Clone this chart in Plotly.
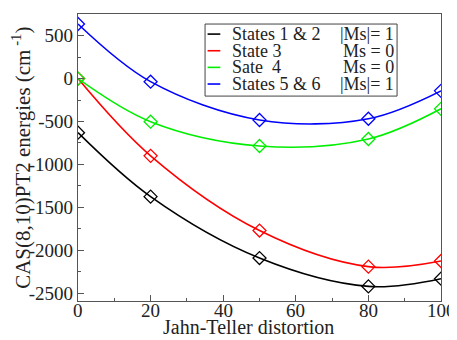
import plotly.graph_objects as go

distortion = [0, 20, 50, 80, 100]
states_1_2 = [-630, -1375, -2090, -2420, -2330]
state_3 = [0, -900, -1770, -2190, -2124]
state_4 = [0, -502, -785, -704, -352]
states_5_6 = [636, -36, -482, -468, -143]

names = ["States 1 & 2", "State 3", "Sate  4", "States 5 & 6"]
ms_labels = ["|Ms|= 1", "Ms = 0", "Ms = 0", "|Ms|= 1"]
colors = ["#000000", "#ff0000", "#00ee00", "#0000ff"]
series = [states_1_2, state_3, state_4, states_5_6]

y_ticks = [-2500, -2000, -1500, -1000, -500, 0, 500]
y_ticktext = ["-2500", "-2000", "-1500", "-1000", "-500", "0", "500"]
x_ticks = [0, 20, 40, 60, 80, 100]
x_ticktext = ["0", "20", "40", "60", "80", "100"]

font = "Liberation Serif, Times New Roman, serif"
txt_col = "#222222"
axis_col = "#555555"

fig = go.Figure()
for name, col, ys in zip(names, colors, series):
    fig.add_trace(go.Scatter(
        x=distortion, y=ys, name=name, mode="lines+markers", showlegend=False,
        line=dict(color=col, width=1.6, shape="spline", smoothing=1.0),
        marker=dict(symbol="diamond-open", size=10, color=col, line=dict(width=1.3, color=col)),
    ))

# page body has an 8px margin, so the figure is sized to fit the 457x340 window
fig.update_layout(
    width=449, height=332,
    margin=dict(l=70, r=16, t=6, b=39, autoexpand=False),
    paper_bgcolor="white", plot_bgcolor="white",
    font=dict(family=font, size=18, color=txt_col),
    showlegend=False,
    xaxis=dict(
        range=[0, 100], tickvals=x_ticks, ticks="inside", ticklen=6,
        minor=dict(dtick=10, ticks="inside", ticklen=3, tickcolor=axis_col),
        showline=True, linecolor=axis_col, linewidth=1.2, mirror=True,
        showgrid=False, zeroline=False, tickcolor=axis_col, automargin=False,
        showticklabels=False,
    ),
    yaxis=dict(
        range=[-2590, 752], tickvals=y_ticks, ticktext=y_ticktext,
        ticks="inside", ticklen=6, automargin=False,
        minor=dict(dtick=250, tick0=0, ticks="inside", ticklen=3, tickcolor=axis_col),
        showline=True, linecolor=axis_col, linewidth=1.2, mirror=True,
        showgrid=False, zeroline=False, tickcolor=axis_col,
        tickfont=dict(size=19),
    ),
)

# x tick labels, placed tight under the axis as in the reference
for v, t in zip(x_ticks, x_ticktext):
    fig.add_annotation(
        x=v, y=-0.034, xref="x", yref="paper", text=t, showarrow=False,
        xanchor="center", yanchor="middle", borderpad=0,
        font=dict(family=font, size=19, color=txt_col),
    )

# axis titles
fig.add_annotation(
    x=0.47, y=-0.136, xref="paper", yref="paper", text="Jahn-Teller distortion",
    showarrow=False, xanchor="center", yanchor="bottom",
    font=dict(family=font, size=20, color=txt_col),
)
fig.add_annotation(
    x=-0.156, y=0.50, xref="paper", yref="paper",
    text="CAS(8,10)PT2 energies (cm<sup> -1</sup>)", textangle=-90,
    showarrow=False, xanchor="center", yanchor="middle",
    font=dict(family=font, size=21, color=txt_col),
)

# legend box drawn in paper coordinates
fig.add_shape(type="rect", xref="paper", yref="paper", x0=0.350, x1=0.879, y0=0.714, y1=0.965,
              line=dict(color="#444444", width=1), fillcolor="white", layer="above")
row_y = [0.930, 0.872, 0.814, 0.756]
for i in range(len(names)):
    fig.add_shape(type="line", xref="paper", yref="paper", x0=0.357, x1=0.392,
                  y0=row_y[i], y1=row_y[i], line=dict(color=colors[i], width=1.6), layer="above")
    fig.add_annotation(
        x=0.421, y=row_y[i], xref="paper", yref="paper", text=names[i],
        showarrow=False, xanchor="left", yanchor="middle", borderpad=0,
        font=dict(family=font, size=18, color=txt_col),
    )
    fig.add_annotation(
        x=0.873, y=row_y[i], xref="paper", yref="paper", text=ms_labels[i],
        showarrow=False, xanchor="right", yanchor="middle", borderpad=0,
        font=dict(family=font, size=18, color=txt_col),
    )

fig.write_html("out.html")
